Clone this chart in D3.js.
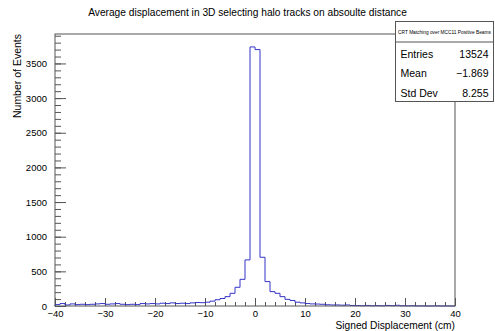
<!DOCTYPE html>
<html>
<head>
<meta charset="utf-8">
<script src="https://cdn.jsdelivr.net/npm/d3@7"></script>
<style>
  html, body { margin: 0; padding: 0; background: #fff; }
  svg { display: block; font-family: "Liberation Sans", Arial, sans-serif; }
</style>
</head>
<body>
<div id="chart"></div>
<script>
// histogram: 80 bins of 1 cm from -40 to 40
const binStart = -40;
const binWidth = 1;
const counts = [
  20, 35, 15, 30, 20, 25, 20, 25, 30, 35,   // -40 .. -31
  25, 30, 35, 25, 20, 25, 20, 35, 30, 35,   // -30 .. -21
  30, 40, 35, 45, 35, 40, 35, 45, 50, 48,   // -20 .. -11
  55, 70, 90, 108, 135, 183, 270, 385, 665, 3738, // -10 .. -1
  3700, 703, 352, 207, 183, 135, 96, 80, 55, 45,  // 0 .. 9
  35, 30, 28, 25, 18, 15, 15, 12, 15, 8,    // 10 .. 19
  6, 4, 8, 3, 5, 3, 8, 5, 10, 3,            // 20 .. 29
  2, 4, 1, 2, 0, 1, 2, 0, 1, 0              // 30 .. 39
];
const xMajorTicks = [-40, -30, -20, -10, 0, 10, 20, 30, 40];
const yMajorTicks = [0, 500, 1000, 1500, 2000, 2500, 3000, 3500];

const title = "Average displacement in 3D selecting halo tracks on absoulte distance";
const xTitle = "Signed Displacement (cm)";
const yTitle = "Number of Events";
const statsHeader = "CRT Matching over MCC11 Positive Beams";
const statsLabels = ["Entries", "Mean", "Std Dev"];
const statsValues = ["13524", "\u22121.869", "8.255"];

const width = 495, height = 331;
const frame = { left: 55, right: 455, top: 34, bottom: 306 };
const lineColor = "#3434c8";
const frameColor = "#555";

const svg = d3.select("#chart")
  .append("svg")
  .attr("width", width)
  .attr("height", height);

const x = d3.scaleLinear().domain([-40, 40]).range([frame.left, frame.right]);
// ROOT puts the max 5% above the highest bin
const y = d3.scaleLinear().domain([0, d3.max(counts) * 1.05]).range([frame.bottom, frame.top]);

// title
svg.append("text")
  .attr("x", width / 2)
  .attr("y", 16)
  .attr("text-anchor", "middle")
  .style("font-size", "10.2px")
  .text(title);

// x axis: minor ticks every 2, major every 10
const gx = svg.append("g").attr("transform", `translate(0,${frame.bottom})`);
gx.append("g")
  .call(d3.axisBottom(x).tickValues(d3.range(-40, 41, 2)).tickSize(-4).tickFormat(""))
  .call(g => g.select(".domain").remove());
gx.append("g")
  .call(d3.axisBottom(x).tickValues(xMajorTicks).tickSize(-8).tickPadding(4.5))
  .call(g => g.select(".domain").remove())
  .call(g => g.selectAll("text").style("font-size", "9.5px").attr("fill", "#000")
    .style("font-family", "Liberation Sans, Arial, sans-serif"));

// y axis: minor ticks every 100, major every 500
const gy = svg.append("g").attr("transform", `translate(${frame.left},0)`);
gy.append("g")
  .call(d3.axisLeft(y).tickValues(d3.range(0, 3901, 100)).tickSize(-6).tickFormat(""))
  .call(g => g.select(".domain").remove());
gy.append("g")
  .call(d3.axisLeft(y).tickValues(yMajorTicks).tickSize(-11).tickPadding(8).tickFormat(d3.format("d")))
  .call(g => g.select(".domain").remove())
  .call(g => g.selectAll("text").style("font-size", "9.5px").attr("fill", "#000")
    .style("font-family", "Liberation Sans, Arial, sans-serif"));

svg.selectAll(".tick line").attr("stroke", frameColor);

// histogram outline
const pts = [[binStart, 0]];
counts.forEach((c, i) => pts.push([binStart + i * binWidth, c]));
pts.push([binStart + counts.length * binWidth, counts[counts.length - 1]]);
pts.push([binStart + counts.length * binWidth, 0]);

const line = d3.line()
  .x(d => x(d[0]))
  .y(d => y(d[1]))
  .curve(d3.curveStepAfter);

svg.append("path")
  .datum(pts)
  .attr("fill", "none")
  .attr("stroke", lineColor)
  .attr("stroke-width", 1)
  .attr("d", line);

// frame
svg.append("rect")
  .attr("x", frame.left)
  .attr("y", frame.top)
  .attr("width", frame.right - frame.left)
  .attr("height", frame.bottom - frame.top)
  .attr("fill", "none")
  .attr("stroke", frameColor);

// axis titles
svg.append("text")
  .attr("x", frame.right)
  .attr("y", 328.7)
  .attr("text-anchor", "end")
  .style("font-size", "10.2px")
  .text(xTitle);

svg.append("text")
  .attr("transform", `translate(21,${frame.top}) rotate(-90)`)
  .attr("text-anchor", "end")
  .style("font-size", "10.5px")
  .text(yTitle);

// stats box
const box = svg.append("g").attr("transform", "translate(395.5,21.5)");
box.append("rect")
  .attr("width", 98)
  .attr("height", 80)
  .attr("fill", "#fff")
  .attr("stroke", frameColor);
box.append("line")
  .attr("x1", 0).attr("x2", 98)
  .attr("y1", 20.5).attr("y2", 20.5)
  .attr("stroke", frameColor);
box.append("text")
  .attr("x", 49)
  .attr("y", 12)
  .attr("text-anchor", "middle")
  .style("font-size", "4.8px")
  .text(statsHeader);
statsLabels.forEach((lab, i) => {
  box.append("text")
    .attr("x", 5)
    .attr("y", 36 + i * 19.5)
    .style("font-size", "10.5px")
    .text(lab);
  box.append("text")
    .attr("x", 93)
    .attr("y", 36 + i * 19.5)
    .attr("text-anchor", "end")
    .style("font-size", "10.5px")
    .text(statsValues[i]);
});
</script>
</body>
</html>
